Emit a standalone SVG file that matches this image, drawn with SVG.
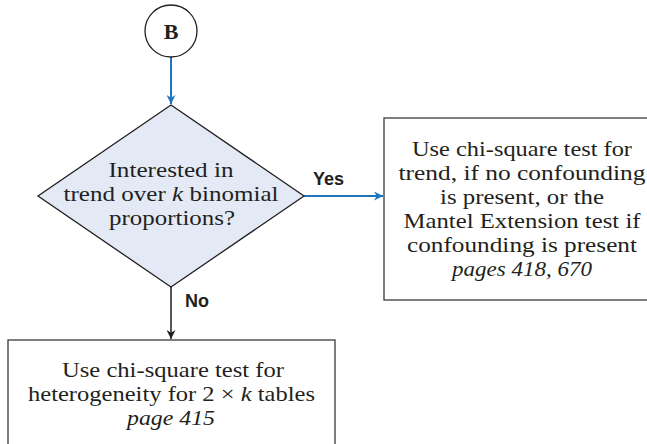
<svg xmlns="http://www.w3.org/2000/svg" width="647" height="444" viewBox="0 0 647 444">
<style>
.serif{font-family:"Liberation Serif","DejaVu Serif",serif;font-size:22px;fill:#231f20;text-anchor:middle}
.lbl{font-family:"Liberation Sans","DejaVu Sans",sans-serif;font-size:18px;font-weight:bold;fill:#231f20}
.box{fill:#fff;stroke:#3a3a3a;stroke-width:1.3}
.blue{stroke:#1f74c0;stroke-width:2;fill:none}
.blk{stroke:#231f20;stroke-width:1.5;fill:none}
</style>
<defs>
<marker id="ab" viewBox="0 0 10 10" refX="10" refY="5" markerWidth="9" markerHeight="9" markerUnits="userSpaceOnUse" orient="auto"><path d="M0,0 L10,5 L0,10 L3,5 z" fill="#1f74c0"/></marker>
<marker id="ak" viewBox="0 0 10 10" refX="10" refY="5" markerWidth="9" markerHeight="9" markerUnits="userSpaceOnUse" orient="auto"><path d="M0,0 L10,5 L0,10 L3,5 z" fill="#231f20"/></marker>
</defs>
<rect width="647" height="444" fill="#fff"/>
<g id="connectors">
<line class="blue" x1="171" y1="57" x2="171" y2="104" marker-end="url(#ab)"/>
<line class="blue" x1="304" y1="196" x2="383" y2="196" marker-end="url(#ab)"/>
<line class="blk" x1="171" y1="287" x2="171" y2="339" marker-end="url(#ak)"/>
<text class="lbl" x="313" y="185">Yes</text>
<text class="lbl" x="185" y="307">No</text>
</g>
<g id="nodeB">
<circle cx="171" cy="31" r="26" fill="#fff" stroke="#231f20" stroke-width="1.3"/>
<text x="171" y="39" style="font-family:'Liberation Serif',serif;font-size:22px;font-weight:bold;fill:#231f20;text-anchor:middle">B</text>
</g>
<g id="decision">
<polygon points="171,105 304,196 171,287 38,196" fill="#e4eaf5" stroke="#231f20" stroke-width="1.3"/>
<text class="serif" x="171" y="177" textLength="125" lengthAdjust="spacingAndGlyphs">Interested in</text>
<text class="serif" x="171" y="201" textLength="215" lengthAdjust="spacingAndGlyphs">trend over <tspan font-style="italic">k</tspan> binomial</text>
<text class="serif" x="172" y="225" textLength="126" lengthAdjust="spacingAndGlyphs">proportions?</text>
</g>
<g id="trendBox">
<rect class="box" x="384" y="118" width="280" height="182"/>
<text class="serif" x="522" y="156" textLength="220" lengthAdjust="spacingAndGlyphs">Use chi-square test for</text>
<text class="serif" x="522" y="180" textLength="247" lengthAdjust="spacingAndGlyphs">trend, if no confounding</text>
<text class="serif" x="522" y="204" textLength="164" lengthAdjust="spacingAndGlyphs">is present, or the</text>
<text class="serif" x="522" y="228" textLength="237" lengthAdjust="spacingAndGlyphs">Mantel Extension test if</text>
<text class="serif" x="522" y="252" textLength="230" lengthAdjust="spacingAndGlyphs">confounding is present</text>
<text class="serif" x="522" y="276" font-style="italic" textLength="140" lengthAdjust="spacingAndGlyphs">pages 418, 670</text>
</g>
<g id="heteroBox">
<rect class="box" x="8" y="340" width="327" height="120"/>
<text class="serif" x="173" y="377" textLength="222" lengthAdjust="spacingAndGlyphs">Use chi-square test for</text>
<text class="serif" x="171.5" y="401" textLength="287" lengthAdjust="spacingAndGlyphs">heterogeneity for 2 × <tspan font-style="italic">k</tspan> tables</text>
<text class="serif" x="171" y="425" font-style="italic" textLength="88" lengthAdjust="spacingAndGlyphs">page 415</text>
</g>
</svg>
